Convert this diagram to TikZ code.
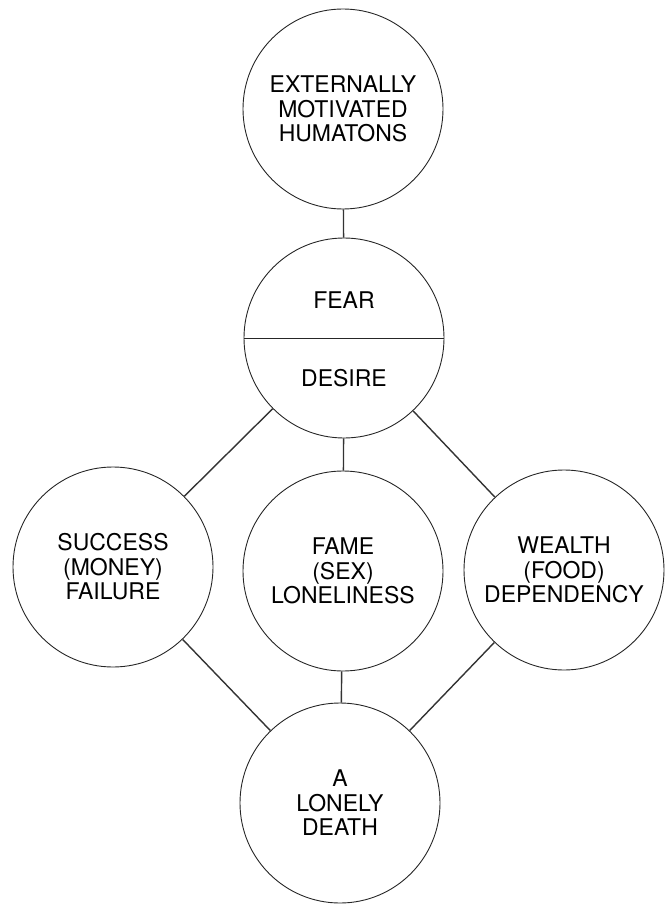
\documentclass[tikz,border=0pt]{standalone}
\usepackage{fontspec}
\setmainfont{TeX Gyre Heros}
\begin{document}
\begin{tikzpicture}[x=1pt, y=-1pt,
    bubble/.style={circle, draw=black!85, line width=0.9pt, minimum size=200pt,
      inner sep=0pt, align=center, font=\fontsize{23}{24.5}\selectfont},
    word/.style={font=\fontsize{23}{24.5}\selectfont},
    link/.style={draw=black!80, line width=1.4pt}]

        % Fix the page size
        \useasboundingbox (0,0) rectangle (665,904);

        % Draw the circles
        \node[bubble] (humatons) at (343,109) {EXTERNALLY\\MOTIVATED\\HUMATONS};
        \node[bubble] (motive) at (344,338) {};
        \node[bubble] (success) at (113,567) {SUCCESS\\(MONEY)\\FAILURE};
        \node[bubble] (fame) at (343,571) {FAME\\(SEX)\\LONELINESS};
        \node[bubble] (wealth) at (564,570) {WEALTH\\(FOOD)\\DEPENDENCY};
        \node[bubble] (death) at (340,803) {A\\LONELY\\DEATH};

        % Split the middle circle
        \draw[black!85, line width=0.9pt] (motive.west) -- (motive.east);
        \node[word] (fear) at (344,300) {FEAR};
        \node[word] (desire) at (344,378) {DESIRE};

        % Draw the connectors
        \draw[link] (humatons) -- (motive);
        \draw[link] (motive) -- (success);
        \draw[link] (motive) -- (fame);
        \draw[link] (motive) -- (wealth);
        \draw[link] (success) -- (death);
        \draw[link] (fame) -- (death);
        \draw[link] (wealth) -- (death);

\end{tikzpicture}
\end{document}
